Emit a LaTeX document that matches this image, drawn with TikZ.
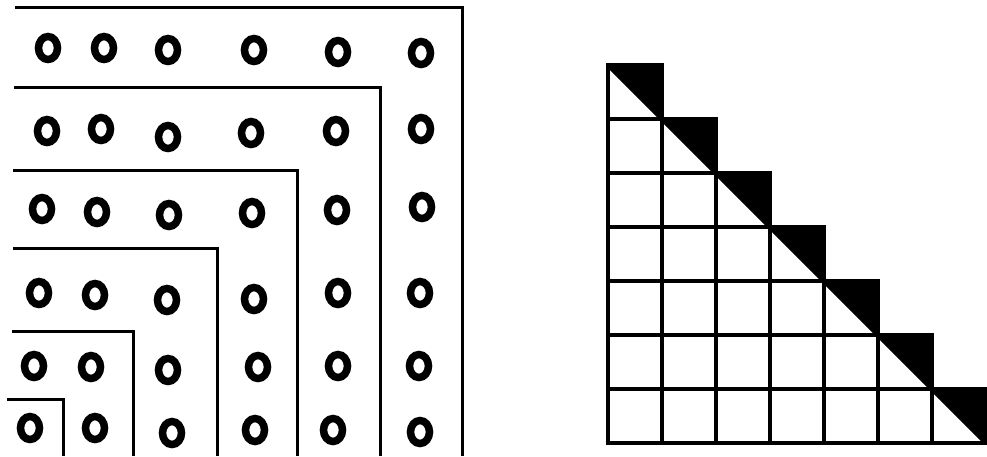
\documentclass[tikz,border=0pt]{standalone}
\usepackage{tikz}
\tikzset{
    gnomon/.style={line width=3pt},
    dot/.style={line width=7.5pt},
    cell/.style={line width=4.5pt}
}

\begin{document}
\begin{tikzpicture}[x=1pt, y=-1pt]
            \useasboundingbox (0,0) rectangle (987,456);
            \draw[gnomon] (15,7) -- (462,7) -- (462,456);
            \draw[gnomon] (14,87) -- (380,87) -- (380,456);
            \draw[gnomon] (13,170) -- (297,170) -- (297,456);
            \draw[gnomon] (13,248) -- (217,248) -- (217,456);
            \draw[gnomon] (12,331) -- (133,331) -- (133,456);
            \draw[gnomon] (7,399) -- (63,399) -- (63,456);
            \foreach \x/\y in {48/48, 104/48, 168/50, 254/50, 338/52, 421/53,
                               47/131, 101/129, 168/137, 251/133, 336/131, 421/129,
                               42/209, 97/212, 169/215, 252/213, 337/210, 422/207,
                               39/293, 95/295, 167/300, 254/299, 338/293, 420/293,
                               34/366, 91/367, 168/370, 258/367, 338/366, 419/366,
                               30/428, 95/428, 172/433, 255/430, 333/430, 420/432}
                \draw[dot] (\x,\y) ellipse (9.5pt and 11.5pt);
            \foreach \r in {0,...,6} {
                \foreach \c in {0,...,\r}
                    \draw[cell] (608+54*\c, 65+54*\r) rectangle ++(54,54);
                \fill (608+54*\r, 65+54*\r) -- ++(54,0) -- ++(0,54) -- cycle;
                \draw[cell] (608+54*\r, 65+54*\r) -- ++(54,54);
            }
        \end{tikzpicture}
\end{document}
